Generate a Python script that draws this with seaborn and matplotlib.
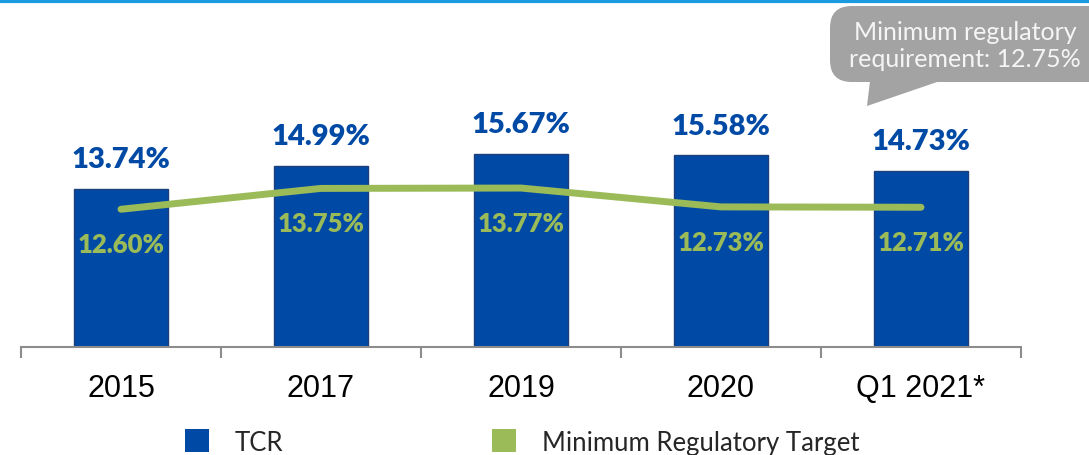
import numpy as np
import pandas as pd
import matplotlib
matplotlib.use("Agg")
import matplotlib.pyplot as plt
from matplotlib.patches import Patch, FancyBboxPatch, Polygon
from matplotlib.lines import Line2D
import seaborn as sns

# data
categories = ["2015", "2017", "2019", "2020", "Q1 2021*"]
tcr = [13.74, 14.99, 15.67, 15.58, 14.73]
min_target = [12.60, 13.75, 13.77, 12.73, 12.71]
callout_text = "Minimum regulatory\nrequirement: 12.75%"

blue = "#004aa5"
green = "#9bbb59"

sns.set_theme(style="white")
plt.rcParams["font.family"] = ["Lato", "DejaVu Sans"]

df = pd.DataFrame({"Period": categories, "TCR": tcr, "Target": min_target})

W, H = 1089, 456
fig = plt.figure(figsize=(W / 100, H / 100), dpi=100)
ax = fig.add_axes([21 / W, 1 - 348 / H, 1000 / W, 348 / H])

sns.barplot(data=df, x="Period", y="TCR", color=blue, width=0.47,
            edgecolor="#1d3f7a", linewidth=1.0, saturation=1, ax=ax)
sns.pointplot(data=df, x="Period", y="Target", color=green, markers="",
              linewidth=5, errorbar=None, ax=ax)
for ln in ax.lines:
    ln.set_solid_capstyle("round")
    ln.set_solid_joinstyle("round")

ax.set_ylim(5, 24.2)
ax.set_xlim(-0.5, len(categories) - 0.5)

# value labels
for i, (v, t) in enumerate(zip(tcr, min_target)):
    ax.annotate(f"{v:.2f}%", (i, v), xytext=(0, 12), textcoords="offset points",
                ha="center", va="bottom", color=blue, fontsize=21, fontweight="heavy")
    ax.annotate(f"{t:.2f}%", (i, t), xytext=(0, -25), textcoords="offset points",
                ha="center", va="center", color=green, fontsize=18.5, fontweight="heavy")

# axes styling
for s in ["top", "left", "right"]:
    ax.spines[s].set_visible(False)
ax.spines["bottom"].set_color("#8c8c8c")
ax.spines["bottom"].set_linewidth(1.5)
ax.set_yticks([])
ax.set_xlabel("")
ax.set_ylabel("")
ax.set_xticks(np.arange(-0.5, len(categories)), minor=True)
ax.tick_params(axis="x", which="minor", length=8, width=1.5, color="#8c8c8c", bottom=True)
ax.tick_params(axis="x", which="major", length=0, pad=19)
for lbl in ax.get_xticklabels():
    lbl.set_fontfamily(["Liberation Sans", "DejaVu Sans"])
    lbl.set_fontsize(22)
    lbl.set_color("black")

# top blue rule
fig.add_artist(Line2D([0, 1], [1 - 1.5 / H, 1 - 1.5 / H], transform=fig.transFigure,
                      color="#1a9ae0", linewidth=2.3))

# callout bubble
box = FancyBboxPatch((830 / W, 1 - 83 / H), 300 / W, 76 / H,
                     boxstyle="round,pad=0,rounding_size=0.02",
                     transform=fig.transFigure, facecolor="#a3a3a3",
                     edgecolor="none", mutation_aspect=W / H)
fig.add_artist(box)
tail = Polygon([(870 / W, 1 - 82 / H), (940 / W, 1 - 82 / H), (867 / W, 1 - 107 / H)],
               closed=True, transform=fig.transFigure, facecolor="#a3a3a3", edgecolor="none")
fig.add_artist(tail)
fig.text(965 / W, 1 - 46 / H, callout_text, ha="center", va="center", color="#f5f5f5",
         fontsize=18, linespacing=1.2)

# legend
handles = [Patch(facecolor=blue, edgecolor="none", label="TCR"),
           Patch(facecolor=green, edgecolor="none", label="Minimum Regulatory Target")]
fig.legend(handles=handles, loc="center left", bbox_to_anchor=(185 / W, 1 - 443 / H),
           ncol=2, frameon=False, fontsize=18.5, handlelength=0.95, handleheight=1.0,
           handletextpad=1.0, columnspacing=8.1, borderaxespad=0, borderpad=0)

fig.savefig("out.png", dpi=100)
